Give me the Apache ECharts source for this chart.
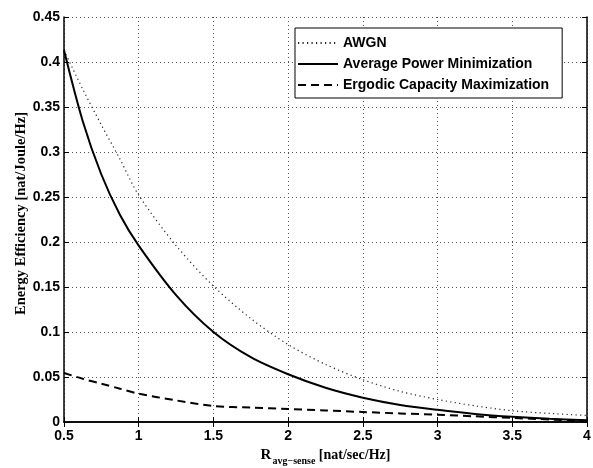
<!DOCTYPE html>
<html>
<head>
<meta charset="utf-8">
<script src="https://cdn.jsdelivr.net/npm/echarts@6/dist/echarts.min.js"></script>
<style>
  html, body { margin: 0; padding: 0; background: #fff; }
  #chart { width: 593px; height: 468px; }
</style>
</head>
<body>
<div id="chart"></div>
<script>
// rate R_avg-sense [nat/sec/Hz]
const rates = [0.5, 0.625, 0.75, 0.875, 1, 1.25, 1.5, 1.75, 2, 2.25, 2.5, 2.75, 3, 3.25, 3.5, 3.75, 4];

// energy efficiency [nat/Joule/Hz]
const awgn = [0.413, 0.37, 0.33, 0.292, 0.252, 0.196, 0.151, 0.115, 0.086, 0.064, 0.047, 0.034, 0.025, 0.018, 0.0125, 0.0095, 0.0072];
const avgPowerMin = [0.413, 0.3345, 0.275, 0.23, 0.196, 0.141, 0.1, 0.072, 0.053, 0.038, 0.027, 0.019, 0.0135, 0.009, 0.0058, 0.0035, 0.002];
const ergodicCapMax = [0.0545, 0.048, 0.0426, 0.037, 0.0315, 0.024, 0.0178, 0.016, 0.0145, 0.0128, 0.0111, 0.0095, 0.008, 0.0063, 0.0045, 0.0028, 0.001];

const seriesNames = ['AWGN', 'Average Power Minimization', 'Ergodic Capacity Maximization'];

const sansBold = { fontFamily: 'Liberation Sans, Arial, sans-serif', fontWeight: 'bold', fontSize: 14, color: '#000' };
const serifFont = 'Liberation Serif, Times New Roman, serif';

function pairs(ys) {
    return rates.map((r, i) => [r, ys[i]]);
}

const chart = echarts.init(document.getElementById('chart'));

chart.setOption({
    animation: false,
    backgroundColor: '#fff',
    grid: { left: 64, right: 6, top: 17, bottom: 46, show: false, containLabel: false, outerBoundsMode: 'none' },
    legend: {
        orient: 'vertical',
        left: 295,
        top: 28,
        padding: [8, 13, 6, 2],
        itemWidth: 40,
        itemHeight: 14,
        itemGap: 7,
        borderColor: '#000',
        borderWidth: 1,
        backgroundColor: '#fff',
        itemStyle: { opacity: 0 },
        textStyle: sansBold,
        data: seriesNames,
    },
    xAxis: [
        {
            type: 'value',
            min: 0.5,
            max: 4,
            interval: 0.5,
            name: '{r|R}{sub|avg\u2212sense}{u| [nat/sec/Hz]}',
            nameLocation: 'middle',
            nameGap: 23,
            nameMoveOverlap: false,
            nameTextStyle: {
                rich: {
                    r: { fontFamily: serifFont, fontWeight: 'bold', fontSize: 15, color: '#000' },
                    sub: { fontFamily: serifFont, fontWeight: 'bold', fontSize: 10, color: '#000', padding: [11, 0, 0, 1] },
                    u: { fontFamily: serifFont, fontWeight: 'bold', fontSize: 14, color: '#000' },
                },
            },
            axisLine: { show: true, lineStyle: { color: '#000', width: 1.5 } },
            axisTick: { show: true, inside: true, length: 5, lineStyle: { color: '#000' } },
            axisLabel: { ...sansBold, margin: 7 },
            splitLine: { show: true, lineStyle: { color: '#555', width: 1, type: [1, 3] } },
        },
        {
            type: 'value',
            position: 'top',
            min: 0.5,
            max: 4,
            interval: 0.5,
            axisLine: { show: true, lineStyle: { color: '#000', width: 1.5 } },
            axisTick: { show: true, inside: true, length: 5, lineStyle: { color: '#000' } },
            axisLabel: { show: false },
            splitLine: { show: false },
        },
    ],
    yAxis: [
        {
            type: 'value',
            min: 0,
            max: 0.45,
            interval: 0.05,
            name: 'Energy Efficiency [nat/Joule/Hz]',
            nameLocation: 'middle',
            nameGap: 35,
            nameMoveOverlap: false,
            nameTextStyle: { fontFamily: serifFont, fontWeight: 'bold', fontSize: 14.5, color: '#000', padding: [0, 0, 0, 12] },
            axisLine: { show: true, lineStyle: { color: '#000', width: 1.5 } },
            axisTick: { show: true, inside: true, length: 5, lineStyle: { color: '#000' } },
            axisLabel: { ...sansBold, margin: 4 },
            splitLine: { show: true, lineStyle: { color: '#555', width: 1, type: [1, 3] } },
        },
        {
            type: 'value',
            position: 'right',
            min: 0,
            max: 0.45,
            interval: 0.05,
            axisLine: { show: true, lineStyle: { color: '#000', width: 1.5 } },
            axisTick: { show: true, inside: true, length: 5, lineStyle: { color: '#000' } },
            axisLabel: { show: false },
            splitLine: { show: false },
        },
    ],
    series: [
        {
            name: seriesNames[0],
            type: 'line',
            data: pairs(awgn),
            smooth: 0.3,
            symbol: 'none',
            lineStyle: { color: '#222', width: 1.2, type: [1.2, 3.3] },
            itemStyle: { color: '#222' },
        },
        {
            name: seriesNames[1],
            type: 'line',
            data: pairs(avgPowerMin),
            smooth: 0.3,
            symbol: 'none',
            lineStyle: { color: '#000', width: 2 },
            itemStyle: { color: '#000' },
        },
        {
            name: seriesNames[2],
            type: 'line',
            data: pairs(ergodicCapMax),
            smooth: 0.3,
            symbol: 'none',
            lineStyle: { color: '#000', width: 2, type: [8, 5] },
            itemStyle: { color: '#000' },
        },
    ],
});
</script>
</body>
</html>
